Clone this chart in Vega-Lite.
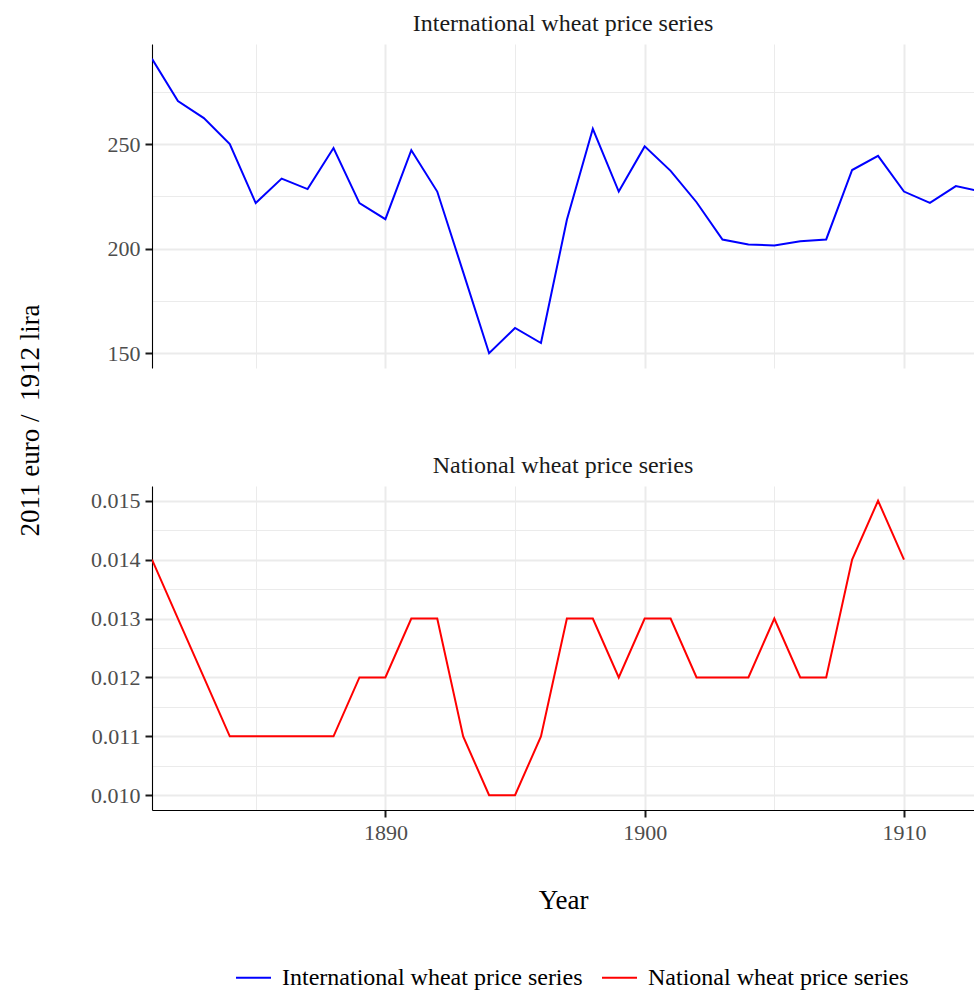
{
  "$schema": "https://vega.github.io/schema/vega-lite/v6.json",
  "background": "white",
  "padding": {"left": 16, "top": 12, "right": 0, "bottom": 0},
  "datasets": {
    "wheat": [
      {"year": 1881, "series": "International wheat price series", "value": 290.8},
      {"year": 1882, "series": "International wheat price series", "value": 270.6},
      {"year": 1883, "series": "International wheat price series", "value": 262.4},
      {"year": 1884, "series": "International wheat price series", "value": 250.0},
      {"year": 1885, "series": "International wheat price series", "value": 221.8},
      {"year": 1886, "series": "International wheat price series", "value": 233.5},
      {"year": 1887, "series": "International wheat price series", "value": 228.5},
      {"year": 1888, "series": "International wheat price series", "value": 248.1},
      {"year": 1889, "series": "International wheat price series", "value": 221.8},
      {"year": 1890, "series": "International wheat price series", "value": 214.1},
      {"year": 1891, "series": "International wheat price series", "value": 247.1},
      {"year": 1892, "series": "International wheat price series", "value": 227.3},
      {"year": 1893, "series": "International wheat price series", "value": 188.8},
      {"year": 1894, "series": "International wheat price series", "value": 150.0},
      {"year": 1895, "series": "International wheat price series", "value": 162.1},
      {"year": 1896, "series": "International wheat price series", "value": 154.9},
      {"year": 1897, "series": "International wheat price series", "value": 213.8},
      {"year": 1898, "series": "International wheat price series", "value": 257.3},
      {"year": 1899, "series": "International wheat price series", "value": 227.3},
      {"year": 1900, "series": "International wheat price series", "value": 248.9},
      {"year": 1901, "series": "International wheat price series", "value": 237.2},
      {"year": 1902, "series": "International wheat price series", "value": 222.2},
      {"year": 1903, "series": "International wheat price series", "value": 204.4},
      {"year": 1904, "series": "International wheat price series", "value": 202.0},
      {"year": 1905, "series": "International wheat price series", "value": 201.5},
      {"year": 1906, "series": "International wheat price series", "value": 203.6},
      {"year": 1907, "series": "International wheat price series", "value": 204.4},
      {"year": 1908, "series": "International wheat price series", "value": 237.6},
      {"year": 1909, "series": "International wheat price series", "value": 244.4},
      {"year": 1910, "series": "International wheat price series", "value": 227.3},
      {"year": 1911, "series": "International wheat price series", "value": 221.9},
      {"year": 1912, "series": "International wheat price series", "value": 229.9},
      {"year": 1913, "series": "International wheat price series", "value": 227.3},
      {"year": 1881, "series": "National wheat price series", "value": 0.014},
      {"year": 1882, "series": "National wheat price series", "value": 0.013},
      {"year": 1883, "series": "National wheat price series", "value": 0.012},
      {"year": 1884, "series": "National wheat price series", "value": 0.011},
      {"year": 1885, "series": "National wheat price series", "value": 0.011},
      {"year": 1886, "series": "National wheat price series", "value": 0.011},
      {"year": 1887, "series": "National wheat price series", "value": 0.011},
      {"year": 1888, "series": "National wheat price series", "value": 0.011},
      {"year": 1889, "series": "National wheat price series", "value": 0.012},
      {"year": 1890, "series": "National wheat price series", "value": 0.012},
      {"year": 1891, "series": "National wheat price series", "value": 0.013},
      {"year": 1892, "series": "National wheat price series", "value": 0.013},
      {"year": 1893, "series": "National wheat price series", "value": 0.011},
      {"year": 1894, "series": "National wheat price series", "value": 0.010},
      {"year": 1895, "series": "National wheat price series", "value": 0.010},
      {"year": 1896, "series": "National wheat price series", "value": 0.011},
      {"year": 1897, "series": "National wheat price series", "value": 0.013},
      {"year": 1898, "series": "National wheat price series", "value": 0.013},
      {"year": 1899, "series": "National wheat price series", "value": 0.012},
      {"year": 1900, "series": "National wheat price series", "value": 0.013},
      {"year": 1901, "series": "National wheat price series", "value": 0.013},
      {"year": 1902, "series": "National wheat price series", "value": 0.012},
      {"year": 1903, "series": "National wheat price series", "value": 0.012},
      {"year": 1904, "series": "National wheat price series", "value": 0.012},
      {"year": 1905, "series": "National wheat price series", "value": 0.013},
      {"year": 1906, "series": "National wheat price series", "value": 0.012},
      {"year": 1907, "series": "National wheat price series", "value": 0.012},
      {"year": 1908, "series": "National wheat price series", "value": 0.014},
      {"year": 1909, "series": "National wheat price series", "value": 0.015},
      {"year": 1910, "series": "National wheat price series", "value": 0.014}
    ]
  },
  "bounds": "flush",
  "spacing": 118,
  "resolve": {"scale": {"y": "independent", "color": "shared"}},
  "vconcat": [
    {
      "width": 822,
      "height": 324,
      "title": {"text": "International wheat price series"},
      "data": {"name": "wheat"},
      "transform": [{"filter": "datum.series === 'International wheat price series'"}],
      "mark": {"type": "line", "strokeWidth": 2, "clip": true},
      "encoding": {
        "x": {
          "field": "year", "type": "quantitative",
          "scale": {"domain": [1881, 1912.7], "nice": false, "zero": false},
          "axis": {
            "values": [1885, 1890, 1895, 1900, 1905, 1910],
            "labels": false, "ticks": false, "domain": false, "title": null,
            "grid": true,
            "gridWidth": {"condition": {"test": "datum.value % 10 === 0", "value": 2}, "value": 1}
          }
        },
        "y": {
          "field": "value", "type": "quantitative",
          "scale": {"domain": [142.96, 297.84], "nice": false, "zero": false},
          "axis": {
            "values": [150, 175, 200, 225, 250, 275],
            "labelExpr": "datum.value % 50 === 0 ? datum.label : ''",
            "tickOpacity": {"condition": {"test": "datum.value % 50 === 0", "value": 1}, "value": 0},
            "gridWidth": {"condition": {"test": "datum.value % 50 === 0", "value": 2}, "value": 1},
            "grid": true,
            "title": "2011 euro / \u00a01912 lira",
            "titleX": -122,
            "titleY": 376,
            "titleBaseline": "middle"
          }
        },
        "color": {
          "field": "series", "type": "nominal",
          "scale": {"domain": ["International wheat price series", "National wheat price series"], "range": ["#0000ff", "#ff0000"]},
          "legend": {"orient": "none", "legendX": 83, "legendY": 915, "direction": "horizontal", "title": null}
        }
      }
    },
    {
      "width": 822,
      "height": 324,
      "title": {"text": "National wheat price series"},
      "data": {"name": "wheat"},
      "transform": [{"filter": "datum.series === 'National wheat price series'"}],
      "mark": {"type": "line", "strokeWidth": 2, "clip": true},
      "encoding": {
        "x": {
          "field": "year", "type": "quantitative",
          "scale": {"domain": [1881, 1912.7], "nice": false, "zero": false},
          "axis": {
            "values": [1885, 1890, 1895, 1900, 1905, 1910],
            "format": "d",
            "labelExpr": "datum.value % 10 === 0 ? datum.label : ''",
            "tickOpacity": {"condition": {"test": "datum.value % 10 === 0", "value": 1}, "value": 0},
            "gridWidth": {"condition": {"test": "datum.value % 10 === 0", "value": 2}, "value": 1},
            "grid": true,
            "title": "Year",
            "titleY": 90,
            "titleBaseline": "middle"
          }
        },
        "y": {
          "field": "value", "type": "quantitative",
          "scale": {"domain": [0.00975, 0.01525], "nice": false, "zero": false},
          "axis": {
            "values": [0.010, 0.0105, 0.011, 0.0115, 0.012, 0.0125, 0.013, 0.0135, 0.014, 0.0145, 0.015],
            "format": ".3f",
            "labelExpr": "abs(round(datum.value * 2000)) % 2 === 0 ? datum.label : ''",
            "tickOpacity": {"condition": {"test": "abs(round(datum.value * 2000)) % 2 === 0", "value": 1}, "value": 0},
            "gridWidth": {"condition": {"test": "abs(round(datum.value * 2000)) % 2 === 0", "value": 2}, "value": 1},
            "grid": true,
            "title": null
          }
        },
        "color": {
          "field": "series", "type": "nominal",
          "scale": {"domain": ["International wheat price series", "National wheat price series"], "range": ["#0000ff", "#ff0000"]},
          "legend": {"orient": "none", "legendX": 83, "legendY": 915, "direction": "horizontal", "title": null}
        }
      }
    }
  ],
  "config": {
    "view": {"stroke": null},
    "font": "Liberation Serif",
    "title": {"font": "Liberation Serif", "fontSize": 24, "fontWeight": "normal", "color": "#1a1a1a", "anchor": "middle", "frame": "group", "offset": 8},
    "axis": {
      "labelFont": "Liberation Serif", "labelFontSize": 22, "labelColor": "#4d4d4d",
      "titleFont": "Liberation Serif", "titleFontSize": 27, "titleFontWeight": "normal", "titleColor": "#000000",
      "gridColor": "#ebebeb",
      "domainColor": "#000000", "domainWidth": 1.1,
      "tickColor": "#1a1a1a", "tickWidth": 2, "tickSize": 7,
      "labelPadding": 5, "labelOverlap": false, "labelFlush": false
    },
    "legend": {
      "symbolType": "stroke", "symbolSize": 1225, "symbolStrokeWidth": 2,
      "labelFont": "Liberation Serif", "labelFontSize": 24, "labelColor": "#000000",
      "labelOffset": 10, "columnPadding": 15, "labelLimit": 0
    }
  }
}
